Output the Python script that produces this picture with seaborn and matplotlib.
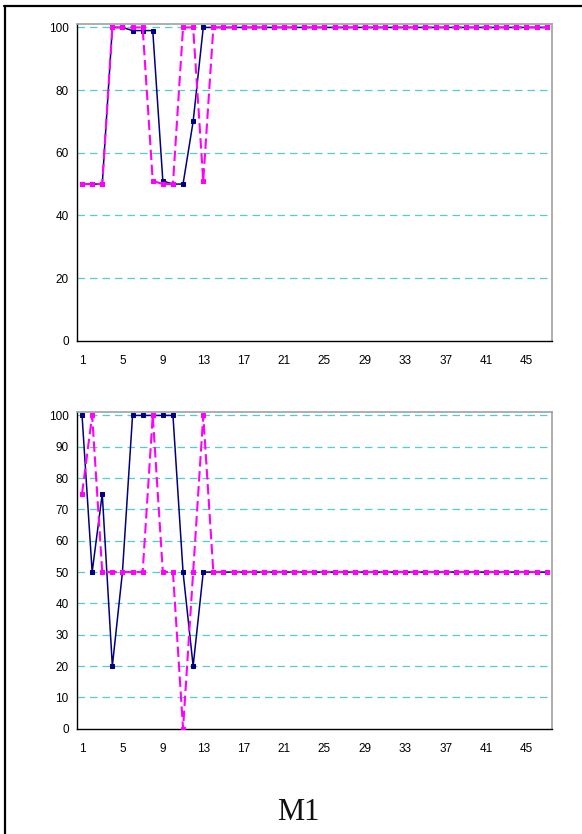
import numpy as np
import pandas as pd
import matplotlib
matplotlib.use("Agg")
import matplotlib.pyplot as plt
import seaborn as sns
from matplotlib.lines import Line2D
from matplotlib.ticker import MultipleLocator, FixedLocator

sns.set_style("white")
plt.rcParams['font.family'] = ['Liberation Sans', 'DejaVu Sans']

categories = list(range(1, 48))
top_navy = [50, 50, 50, 100, 100, 99, 99, 99, 51, 50, 50, 70, 100] + [100] * 34
top_magenta = [50, 50, 50, 100, 100, 100, 100, 51, 50, 50, 100, 100, 51] + [100] * 34
bot_navy = [100, 50, 75, 20, 50, 100, 100, 100, 100, 100, 50, 20, 50] + [50] * 34
bot_magenta = [75, 100, 50, 50, 50, 50, 50, 100, 50, 50, 0, 50, 100] + [50] * 34
xtick_labels = [str(v) for v in range(1, 46, 4)]
title = "M1"

W, H = 582, 834
fig = plt.figure(figsize=(W / 100, H / 100), dpi=100)

NAVY = "#000080"
MAG = "#FF00FF"
GRID = "#4FCFCF"

def make_axes(bottom_px, top_px):
    left = 77 / W
    width = (551.7 - 77) / W
    b = (H - bottom_px) / H
    h = (bottom_px - top_px) / H
    return fig.add_axes([left, b, width, h])

def draw(ax, navy, mag, ymax_step):
    df = pd.DataFrame({"x": categories, "navy": navy, "mag": mag})
    sns.lineplot(data=df, x="x", y="navy", ax=ax, color=NAVY, lw=1.1,
                 marker="s", markersize=3.4, markeredgecolor=NAVY,
                 markerfacecolor=NAVY, zorder=3)
    sns.lineplot(data=df, x="x", y="mag", ax=ax, color=MAG, lw=1.5,
                 linestyle=(0, (5, 2.2)), marker="s", markersize=3.0,
                 markeredgecolor=MAG, markerfacecolor=MAG, zorder=4)
    ax.set_xlim(0.5, 47.5)
    ax.set_ylim(0, 101)
    ax.yaxis.set_major_locator(MultipleLocator(ymax_step))
    for v in np.arange(ymax_step, 100.1, ymax_step):
        ax.axhline(v, color=GRID, lw=0.9, linestyle=(0, (6, 4)), zorder=1)
    ax.xaxis.set_major_locator(FixedLocator(list(range(1, 46, 4))))
    ax.set_xticklabels(xtick_labels)
    ax.xaxis.set_minor_locator(FixedLocator([v + 0.5 for v in range(0, 45, 4)]))
    ax.tick_params(axis="x", which="major", length=0, labelsize=8.5, pad=10,
                   labelcolor="black")
    ax.tick_params(axis="x", which="minor", length=4, width=0.8, color="black",
                   direction="out")
    ax.tick_params(axis="y", which="major", length=4, width=0.8, color="black",
                   direction="out", labelsize=8.5, pad=2, labelcolor="black")
    ax.set_xlabel("")
    ax.set_ylabel("")
    for s in ["left", "bottom"]:
        ax.spines[s].set_color("black")
        ax.spines[s].set_linewidth(1.0)
    for s in ["top", "right"]:
        ax.spines[s].set_color("#A0A0A0")
        ax.spines[s].set_linewidth(1.2)
    ax.grid(False)
    leg = ax.get_legend()
    if leg:
        leg.remove()

ax1 = make_axes(340.7, 24.3)
draw(ax1, top_navy, top_magenta, 20)
ax2 = make_axes(728.7, 412.3)
draw(ax2, bot_navy, bot_magenta, 10)

# outer frame (left and top)
fig.add_artist(Line2D([5 / W, 5 / W], [0, 1 - 6 / H], color="black", lw=1.6,
                      transform=fig.transFigure))
fig.add_artist(Line2D([4 / W, 1], [1 - 6 / H, 1 - 6 / H], color="black", lw=1.6,
                      transform=fig.transFigure))

fig.text(298 / W, 1 - 813 / H, title, family=["Liberation Serif", "DejaVu Serif"],
         fontsize=22, ha="center", va="center", color="#111111")

fig.savefig("out.png", dpi=100)
